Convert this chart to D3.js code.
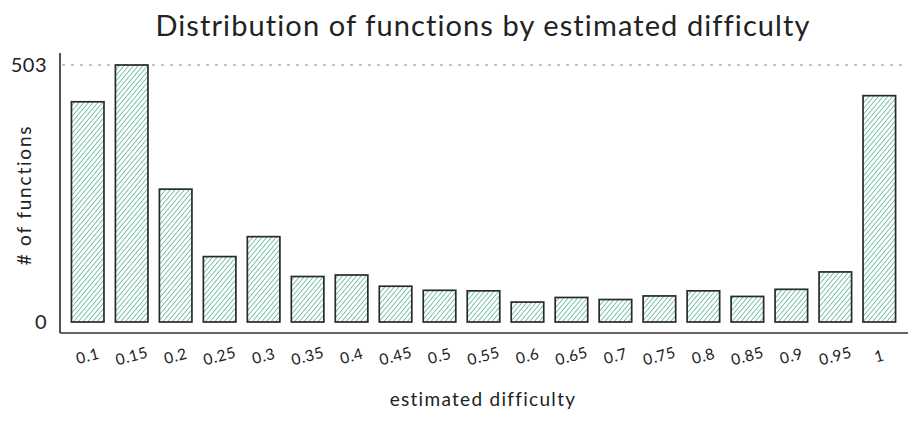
<!DOCTYPE html>
<html>
<head>
<meta charset="utf-8">
<script src="https://cdn.jsdelivr.net/npm/d3@7"></script>
<style>
  html, body { margin: 0; padding: 0; background: #fff; }
  svg { display: block; }
  text { font-family: "Lato", "Noto Sans", sans-serif; fill: #222; }
</style>
</head>
<body>
<div id="chart"></div>
<script>
const categories = ["0.1","0.15","0.2","0.25","0.3","0.35","0.4","0.45","0.5","0.55","0.6","0.65","0.7","0.75","0.8","0.85","0.9","0.95","1"];
const counts = [431, 503, 260, 128, 167, 89, 92, 70, 62, 61, 39, 48, 44, 51, 61, 50, 64, 98, 443];
const yTicks = [0, 503];
const title = "Distribution of functions by estimated difficulty";
const xLabel = "estimated difficulty";
const yLabel = "# of functions";

const W = 918, H = 421;
const FONT = '"Lato", "Noto Sans", sans-serif';
const svg = d3.select("#chart").append("svg").attr("width", W).attr("height", H);

const defs = svg.append("defs");
const pat = defs.append("pattern")
  .attr("id", "hatch").attr("patternUnits", "userSpaceOnUse")
  .attr("width", 3.6).attr("height", 3.6)
  .attr("patternTransform", "rotate(40)");
pat.append("line").attr("x1", 0).attr("y1", 0).attr("x2", 0).attr("y2", 3.6)
  .attr("stroke", "#3aa880").attr("stroke-width", 1.4).attr("stroke-opacity", 0.95);

const x = d3.scaleBand().domain(categories).range([60, 907]).paddingInner(0.26).paddingOuter(0.26);
const y = d3.scaleLinear().domain([0, 503]).range([322, 65]);

// grid line at max
svg.append("line")
  .attr("x1", 62).attr("x2", 908)
  .attr("y1", y(503)).attr("y2", y(503))
  .attr("stroke", "#888").attr("stroke-width", 1).attr("stroke-dasharray", "3,6");

// bars
svg.append("g").selectAll("rect").data(counts).join("rect")
  .attr("x", (d, i) => x(categories[i]))
  .attr("width", x.bandwidth())
  .attr("y", d => y(d))
  .attr("height", d => y(0) - y(d))
  .attr("fill", "url(#hatch)")
  .attr("stroke", "#2a2a2a").attr("stroke-width", 1.7);

// axes lines
svg.append("line").attr("x1", 60).attr("x2", 60).attr("y1", 53).attr("y2", 333)
  .attr("stroke", "#333").attr("stroke-width", 1.7);
svg.append("line").attr("x1", 60).attr("x2", 908).attr("y1", 333).attr("y2", 333)
  .attr("stroke", "#333").attr("stroke-width", 1.7);

// y axis ticks
const yAxis = svg.append("g").attr("transform", "translate(47,0)")
  .call(d3.axisLeft(y).tickValues(yTicks).tickSize(0).tickPadding(0).tickFormat(d3.format("d")));
yAxis.select(".domain").remove();
yAxis.selectAll("text").attr("font-size", 20).style("font-family", FONT).attr("fill", "#222")
  .attr("letter-spacing", 0.5);

// x axis ticks
const xAxis = svg.append("g").attr("transform", "translate(0,356)")
  .call(d3.axisBottom(x).tickSize(0).tickPadding(0));
xAxis.select(".domain").remove();
xAxis.selectAll("text")
  .attr("font-size", 15.5)
  .style("font-family", FONT)
  .attr("fill", "#222")
  .attr("letter-spacing", 0.6)
  .attr("dy", "0.35em").attr("y", 0)
  .attr("transform", "rotate(-15)");

// title
svg.append("text").attr("x", 483).attr("y", 36).attr("text-anchor", "middle")
  .attr("font-size", 29).attr("letter-spacing", 1.1).text(title);

// x label
svg.append("text").attr("x", 483).attr("y", 406).attr("text-anchor", "middle")
  .attr("font-size", 19).attr("letter-spacing", 1.3).text(xLabel);

// y label
svg.append("text").attr("transform", "translate(31,195) rotate(-90)")
  .attr("text-anchor", "middle").attr("font-size", 19).attr("letter-spacing", 1.8).text(yLabel);
</script>
</body>
</html>
